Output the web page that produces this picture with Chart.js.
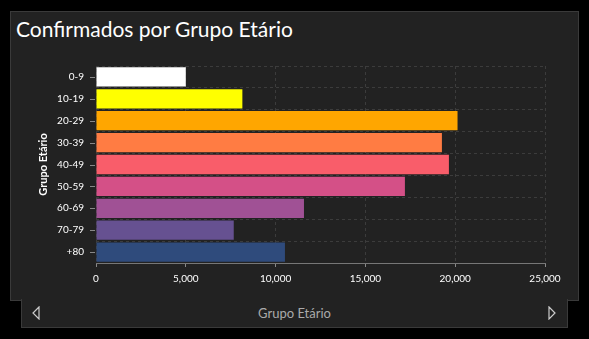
<!DOCTYPE html>
<html lang="pt">
  <head>
    <meta charset="UTF-8" />
    <script src="https://cdn.jsdelivr.net/npm/chart.js@4/dist/chart.umd.min.js"></script>
    <style>
      html, body { margin: 0; padding: 0; background: #000; }
      body { width: 589px; height: 339px; position: relative; overflow: hidden; font-family: Lato, "Noto Sans", sans-serif; }
      .panel {
        position: absolute; left: 10px; top: 11px; width: 567px; height: 288px;
        background: #222; border: 1px solid #3a3a3a;
      }
      .title {
        position: absolute; left: 16px; top: 16px; color: #fff;
        font-size: 21px; font-weight: 400; white-space: nowrap;
      }
      .footer {
        position: absolute; left: 21px; top: 299px; width: 545px; height: 28px;
        background: #222; border: 1px solid #3a3a3a; border-top: none;
        color: #aaa; font-size: 13px; text-align: center; line-height: 28px;
      }
      .footer svg { position: absolute; top: 7px; }
      #chart { position: absolute; left: 0; top: 0; }
    </style>
  </head>
  <body>
    <div class="panel"></div>
    <div class="title">Confirmados por Grupo Etário</div>
    <div class="footer">
      <svg style="left:9px" width="10" height="14"><path d="M8 1 L2 7 L8 13 Z" fill="none" stroke="#ccc" stroke-width="1.2"/></svg>
      Grupo Etário
      <svg style="right:10px" width="10" height="14"><path d="M2 1 L8 7 L2 13 Z" fill="none" stroke="#ccc" stroke-width="1.2"/></svg>
    </div>
    <canvas id="chart" width="589" height="339"></canvas>

    <script>
      const faixas = ["0-9", "10-19", "20-29", "30-39", "40-49", "50-59", "60-69", "70-79", "+80"];
      const confirmados = [5000, 8150, 20130, 19260, 19650, 17200, 11580, 7670, 10520];
      const cores = ["#ffffff", "#ffff00", "#ffa600", "#ff7c43", "#f95d6a", "#d45087", "#a05195", "#665191", "#2f4b7c"];

      // little tick marks at the centre of each category
      const yTicks = {
        id: "yTicks",
        afterDraw(chart) {
          const ctx = chart.ctx;
          const y = chart.scales.y;
          const left = chart.chartArea.left;
          ctx.save();
          ctx.strokeStyle = "#888";
          ctx.lineWidth = 1;
          y.ticks.forEach((t, i) => {
            const py = Math.round(y.getPixelForTick(i)) + 0.5;
            ctx.beginPath();
            ctx.moveTo(left - 6, py);
            ctx.lineTo(left - 1, py);
            ctx.stroke();
          });
          ctx.restore();
        }
      };

      new Chart(document.getElementById("chart"), {
        type: "bar",
        data: {
          labels: faixas,
          datasets: [{ data: confirmados, backgroundColor: cores, barPercentage: 0.88, categoryPercentage: 1 }]
        },
        options: {
          indexAxis: "y",
          responsive: false,
          animation: false,
          layout: { padding: { left: 10, right: 44, top: 66, bottom: 46 } },
          plugins: { legend: { display: false }, tooltip: { enabled: false } },
          scales: {
            x: {
              min: 0, max: 25000,
              ticks: { stepSize: 5000, color: "#fff", font: { family: "Lato", size: 10 }, padding: 6 },
              grid: { color: "#3c3c3c", tickColor: "#888", tickLength: 4, drawTicks: true },
              border: { display: true, color: "#777", dash: [3, 3] },
              afterFit(s) { s.height = 30; }
            },
            y: {
              ticks: { color: "#fff", font: { family: "Lato", size: 10 }, padding: 12 },
              grid: { color: "#3c3c3c", offset: true, drawTicks: false },
              border: { display: false, dash: [3, 3] },
              title: { display: true, text: "Grupo Etário", color: "#fff", font: { family: "Lato", size: 11, weight: "bold" }, padding: { top: 27, bottom: 0 } },
              afterFit(s) { s.width = 86; }
            }
          }
        },
        plugins: [yTicks]
      });
    </script>
  </body>
</html>
